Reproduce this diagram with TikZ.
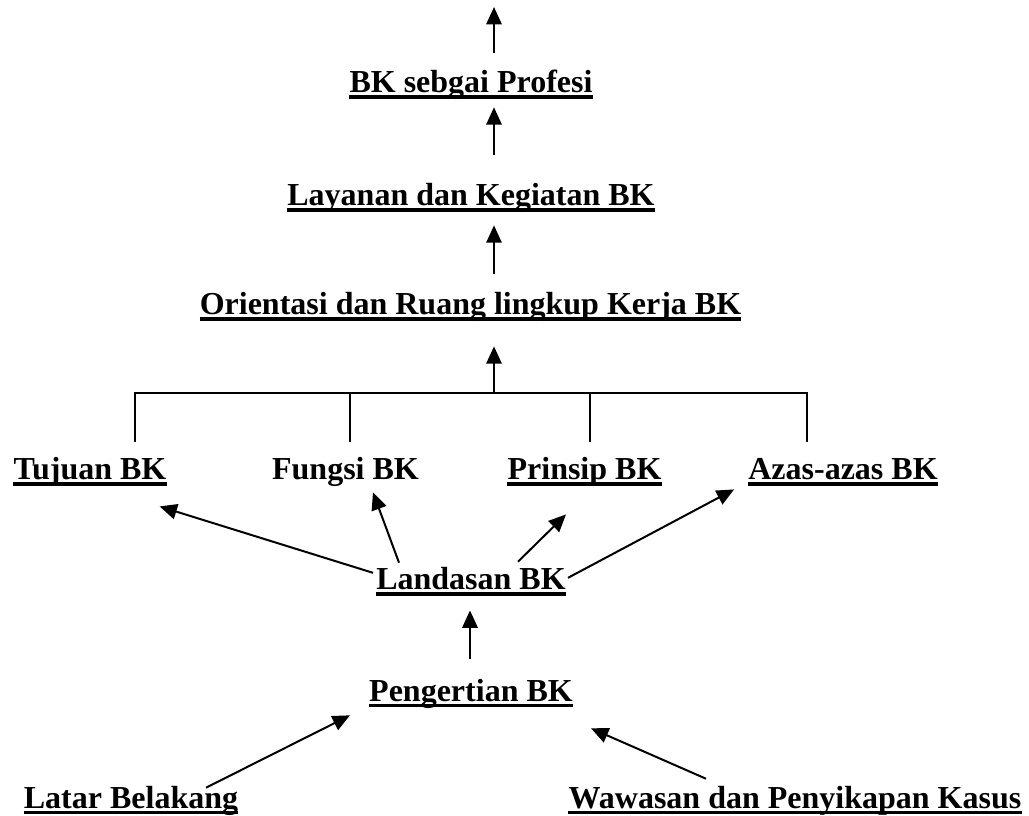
\documentclass[tikz,border=0pt]{standalone}
\usepackage{fontspec}
\setmainfont{Liberation Serif}
\usetikzlibrary{arrows.meta}

\tikzset{
  lbl/.style={inner sep=0pt, anchor=base, text height=16.5pt, text depth=5pt,
    font=\bfseries\fontsize{24}{28}\selectfont},
  arr/.style={line width=1.5pt, -{Triangle[length=13pt,width=11.5pt]}},
  bracket/.style={line width=1pt},
  uline/.style={line width=2.6pt, line cap=butt}
}

\begin{document}
\begin{tikzpicture}[x=0.75pt, y=-0.75pt]
    \useasboundingbox (0, 0) rectangle (1029, 816);

    % Labels
    \node[lbl] (profesi) at (471, 92.5) {BK sebgai Profesi};
    \node[lbl] (layanan) at (471, 205.5) {Layanan dan Kegiatan BK};
    \node[lbl] (orientasi) at (470.5, 314.5) {Orientasi dan Ruang lingkup Kerja BK};
    \node[lbl] (tujuan) at (90, 479.5) {Tujuan BK};
    \node[lbl] (fungsi) at (345.5, 479.5) {Fungsi BK};
    \node[lbl] (prinsip) at (584.5, 479.5) {Prinsip BK};
    \node[lbl] (azas) at (843, 479.5) {Azas-azas BK};
    \node[lbl] (landasan) at (471, 589.5) {Landasan BK};
    \node[lbl] (pengertian) at (471, 701) {Pengertian BK};
    \node[lbl] (latar) at (131, 808) {Latar Belakang};
    \node[lbl] (wawasan) at (795, 808) {Wawasan dan Penyikapan Kasus};

    \foreach \n in {profesi,layanan,orientasi,tujuan,prinsip,azas,landasan,pengertian,latar,wawasan}
      \draw[uline] ([yshift=-3.4pt]\n.base west) -- ([yshift=-3.4pt]\n.base east);

    % Vertical chain
    \coordinate (stem) at (494, 393);
    \coordinate (top) at (494, 7);
    \draw[arr] ([yshift=13.1pt]stem |- profesi.north) -- (top);
    \draw[arr] ([yshift=21.4pt]stem |- layanan.north) -- ([yshift=-5.9pt]stem |- profesi.south);
    \draw[arr] ([yshift=13.9pt]stem |- orientasi.north) -- ([yshift=-9.7pt]stem |- layanan.south);
    \draw[arr] (stem) -- ([yshift=-18.7pt]stem |- orientasi.south);

    % Bracket
    \coordinate (dT) at (135, 442);
    \coordinate (dF) at (350, 442);
    \coordinate (dP) at (590, 442);
    \coordinate (dA) at (807, 442);
    \draw[bracket] (dT) |- (dA |- stem) -- (dA);
    \draw[bracket] (dF) -- (dF |- stem);
    \draw[bracket] (dP) -- (dP |- stem);

    % Landasan to the row
    \draw[arr] ([shift={(-3,-9)}]landasan.west) -- ([shift={(-7,20)}]tujuan.south east);
    \draw[arr] ([shift={(23,-4.5)}]landasan.north west) -- ([shift={(27.5,6)}]fungsi.south);
    \draw[arr] ([shift={(-48,-5.5)}]landasan.north east) -- ([shift={(-18.5,28)}]prinsip.south);
    \draw[arr] ([shift={(2,-4)}]landasan.east) -- ([shift={(-14,3)}]azas.south west);

    % Lower part
    \draw[arr] ([shift={(-1,-20)}]pengertian.north) -- ([shift={(-1,14)}]landasan.south);
    \draw[arr] ([shift={(75,2)}]latar.north) -- ([shift={(-19,7.4)}]pengertian.south west);
    \draw[arr] ([shift={(-89,-7)}]wawasan.north) -- ([shift={(18,20.4)}]pengertian.south east);
\end{tikzpicture}
\end{document}
